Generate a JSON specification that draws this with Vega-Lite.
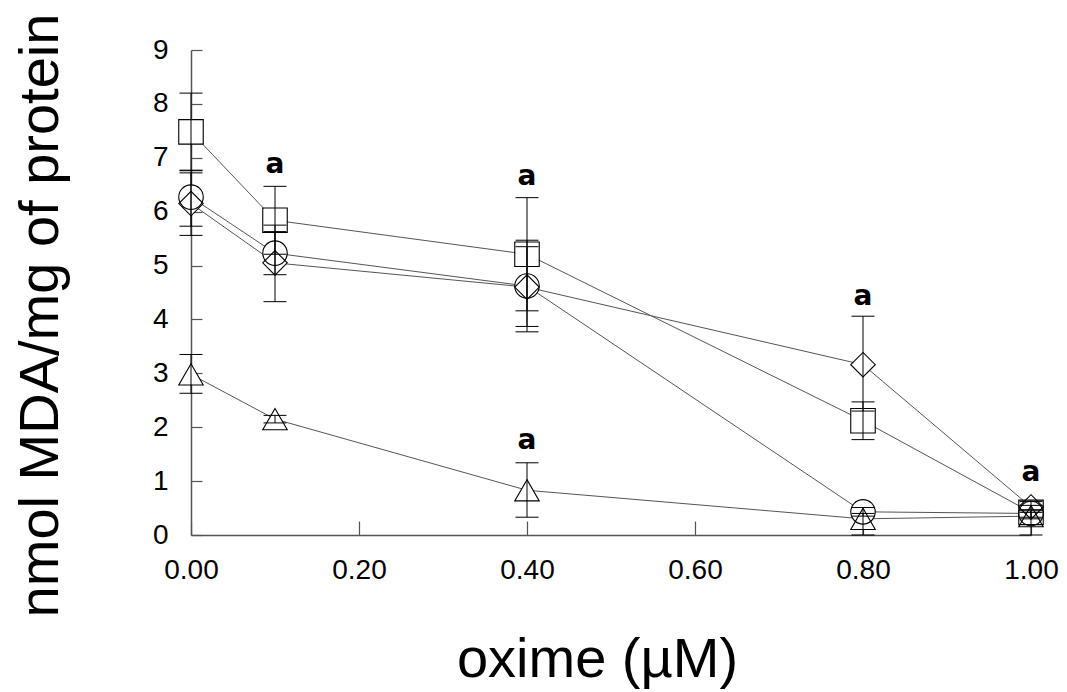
{
  "$schema": "https://vega.github.io/schema/vega-lite/v6.json",
  "width": 840,
  "height": 485,
  "autosize": {"type": "none"},
  "padding": {"left": 191, "top": 50, "right": 36, "bottom": 157},
  "background": "white",
  "config": {
    "view": {"stroke": null},
    "font": "Liberation Sans",
    "text": {"font": "DejaVu Sans"},
    "axis": {
      "grid": false,
      "domainColor": "#555555",
      "domainWidth": 1.5,
      "tickColor": "#555555",
      "tickWidth": 1.2,
      "labelColor": "black",
      "labelFont": "Liberation Sans",
      "labelFontSize": 28,
      "titleFont": "Liberation Sans",
      "titleFontSize": 56,
      "titleFontWeight": "normal",
      "titleColor": "black",
      "labelOverlap": false,
      "labelFlush": false
    }
  },
  "datasets": {
    "pts": [
      {"series": "square", "x": 0, "y": 7.48, "lo": 6.76, "hi": 8.2},
      {"series": "square", "x": 0.1, "y": 5.84, "lo": 5.21, "hi": 6.47},
      {"series": "square", "x": 0.4, "y": 5.21, "lo": 4.16, "hi": 6.26},
      {"series": "square", "x": 0.8, "y": 2.12, "lo": 1.77, "hi": 2.47},
      {"series": "square", "x": 1.0, "y": 0.42, "lo": 0.3, "hi": 0.55},
      {"series": "circle", "x": 0, "y": 6.27, "lo": 5.73, "hi": 6.77},
      {"series": "circle", "x": 0.1, "y": 5.23, "lo": 4.83, "hi": 5.63},
      {"series": "circle", "x": 0.4, "y": 4.62, "lo": 3.77, "hi": 5.47},
      {"series": "circle", "x": 0.8, "y": 0.43, "lo": 0.35, "hi": 0.51},
      {"series": "circle", "x": 1.0, "y": 0.4, "lo": 0.33, "hi": 0.47},
      {"series": "diamond", "x": 0, "y": 6.15, "lo": 5.56, "hi": 6.72},
      {"series": "diamond", "x": 0.1, "y": 5.05, "lo": 4.33, "hi": 5.75},
      {"series": "diamond", "x": 0.4, "y": 4.6, "lo": 3.87, "hi": 5.35},
      {"series": "diamond", "x": 0.8, "y": 3.16, "lo": 2.3, "hi": 4.06},
      {"series": "diamond", "x": 1.0, "y": 0.52, "lo": 0.42, "hi": 0.62},
      {"series": "triangle", "x": 0, "y": 2.98, "lo": 2.63, "hi": 3.35},
      {"series": "triangle", "x": 0.1, "y": 2.15, "lo": 2.08, "hi": 2.22},
      {"series": "triangle", "x": 0.4, "y": 0.83, "lo": 0.33, "hi": 1.34},
      {"series": "triangle", "x": 0.8, "y": 0.3, "lo": 0.0, "hi": 0.4},
      {"series": "triangle", "x": 1.0, "y": 0.35, "lo": 0.0, "hi": 0.45}
    ],
    "marks": [
      {"x": 0.1, "y": 6.71, "t": "a"},
      {"x": 0.4, "y": 6.5, "t": "a"},
      {"x": 0.4, "y": 1.6, "t": "a"},
      {"x": 0.8, "y": 4.26, "t": "a"},
      {"x": 1.0, "y": 1.01, "t": "a"}
    ]
  },
  "layer": [
    {
      "data": {"name": "pts"},
      "mark": {"type": "line", "color": "#555555", "strokeWidth": 1},
      "encoding": {
        "x": {
          "field": "x", "type": "quantitative",
          "scale": {"domain": [0, 1], "nice": false, "zero": false},
          "axis": {
            "values": [0, 0.2, 0.4, 0.6, 0.8, 1],
            "format": ".2f",
            "tickSize": -14,
            "labelPadding": 35,
            "title": "oxime (µM)",
            "titleX": 406,
            "titleY": 141,
            "titleAlign": "center",
            "titleBaseline": "alphabetic",
            "titleAnchor": null
          }
        },
        "y": {
          "field": "y", "type": "quantitative",
          "scale": {"domain": [0, 9], "nice": false},
          "axis": {
            "values": [0, 1, 2, 3, 4, 5, 6, 7, 8, 9],
            "format": "d",
            "tickSize": -11,
            "labelPadding": 34,
            "title": "nmol MDA/mg of protein",
            "titleX": -134,
            "titleY": 265,
            "titleAngle": -90,
            "titleAlign": "center",
            "titleBaseline": "alphabetic",
            "titleAnchor": null
          }
        },
        "detail": {"field": "series"},
        "order": {"field": "x"}
      }
    },
    {
      "data": {"name": "pts"},
      "mark": {"type": "point", "filled": true, "fill": "white", "strokeOpacity": 0, "opacity": 1, "size": 560},
      "encoding": {
        "x": {"field": "x", "type": "quantitative", "title": "oxime (µM)"},
        "y": {"field": "y", "type": "quantitative", "title": "nmol MDA/mg of protein"},
        "shape": {"field": "series", "type": "nominal", "scale": {"domain": ["square", "circle", "diamond", "triangle"], "range": ["square", "circle", "diamond", "triangle-up"]}, "legend": null}
      }
    },
    {
      "data": {"name": "pts"},
      "mark": {"type": "rule", "color": "black", "strokeWidth": 1},
      "encoding": {
        "x": {"field": "x", "type": "quantitative", "title": "oxime (µM)"},
        "y": {"field": "lo", "type": "quantitative", "title": "nmol MDA/mg of protein"},
        "y2": {"field": "hi"}
      }
    },
    {
      "data": {"name": "pts"},
      "mark": {"type": "point", "shape": "stroke", "filled": false, "color": "black", "strokeWidth": 1, "size": 529, "opacity": 1},
      "encoding": {
        "x": {"field": "x", "type": "quantitative", "title": "oxime (µM)"},
        "y": {"field": "lo", "type": "quantitative", "title": "nmol MDA/mg of protein"}
      }
    },
    {
      "data": {"name": "pts"},
      "mark": {"type": "point", "shape": "stroke", "filled": false, "color": "black", "strokeWidth": 1, "size": 529, "opacity": 1},
      "encoding": {
        "x": {"field": "x", "type": "quantitative", "title": "oxime (µM)"},
        "y": {"field": "hi", "type": "quantitative", "title": "nmol MDA/mg of protein"}
      }
    },
    {
      "data": {"name": "pts"},
      "mark": {"type": "point", "filled": false, "color": "black", "strokeWidth": 1.1, "size": 600, "opacity": 1},
      "encoding": {
        "x": {"field": "x", "type": "quantitative", "title": "oxime (µM)"},
        "y": {"field": "y", "type": "quantitative", "title": "nmol MDA/mg of protein"},
        "shape": {"field": "series", "type": "nominal", "scale": {"domain": ["square", "circle", "diamond", "triangle"], "range": ["square", "circle", "diamond", "triangle-up"]}, "legend": null}
      }
    },
    {
      "data": {"name": "marks"},
      "mark": {"type": "text", "fontSize": 28, "fontWeight": 700, "font": "DejaVu Sans", "align": "center", "baseline": "alphabetic", "color": "black"},
      "encoding": {
        "x": {"field": "x", "type": "quantitative", "title": "oxime (µM)"},
        "y": {"field": "y", "type": "quantitative", "title": "nmol MDA/mg of protein"},
        "text": {"field": "t"}
      }
    }
  ]
}
